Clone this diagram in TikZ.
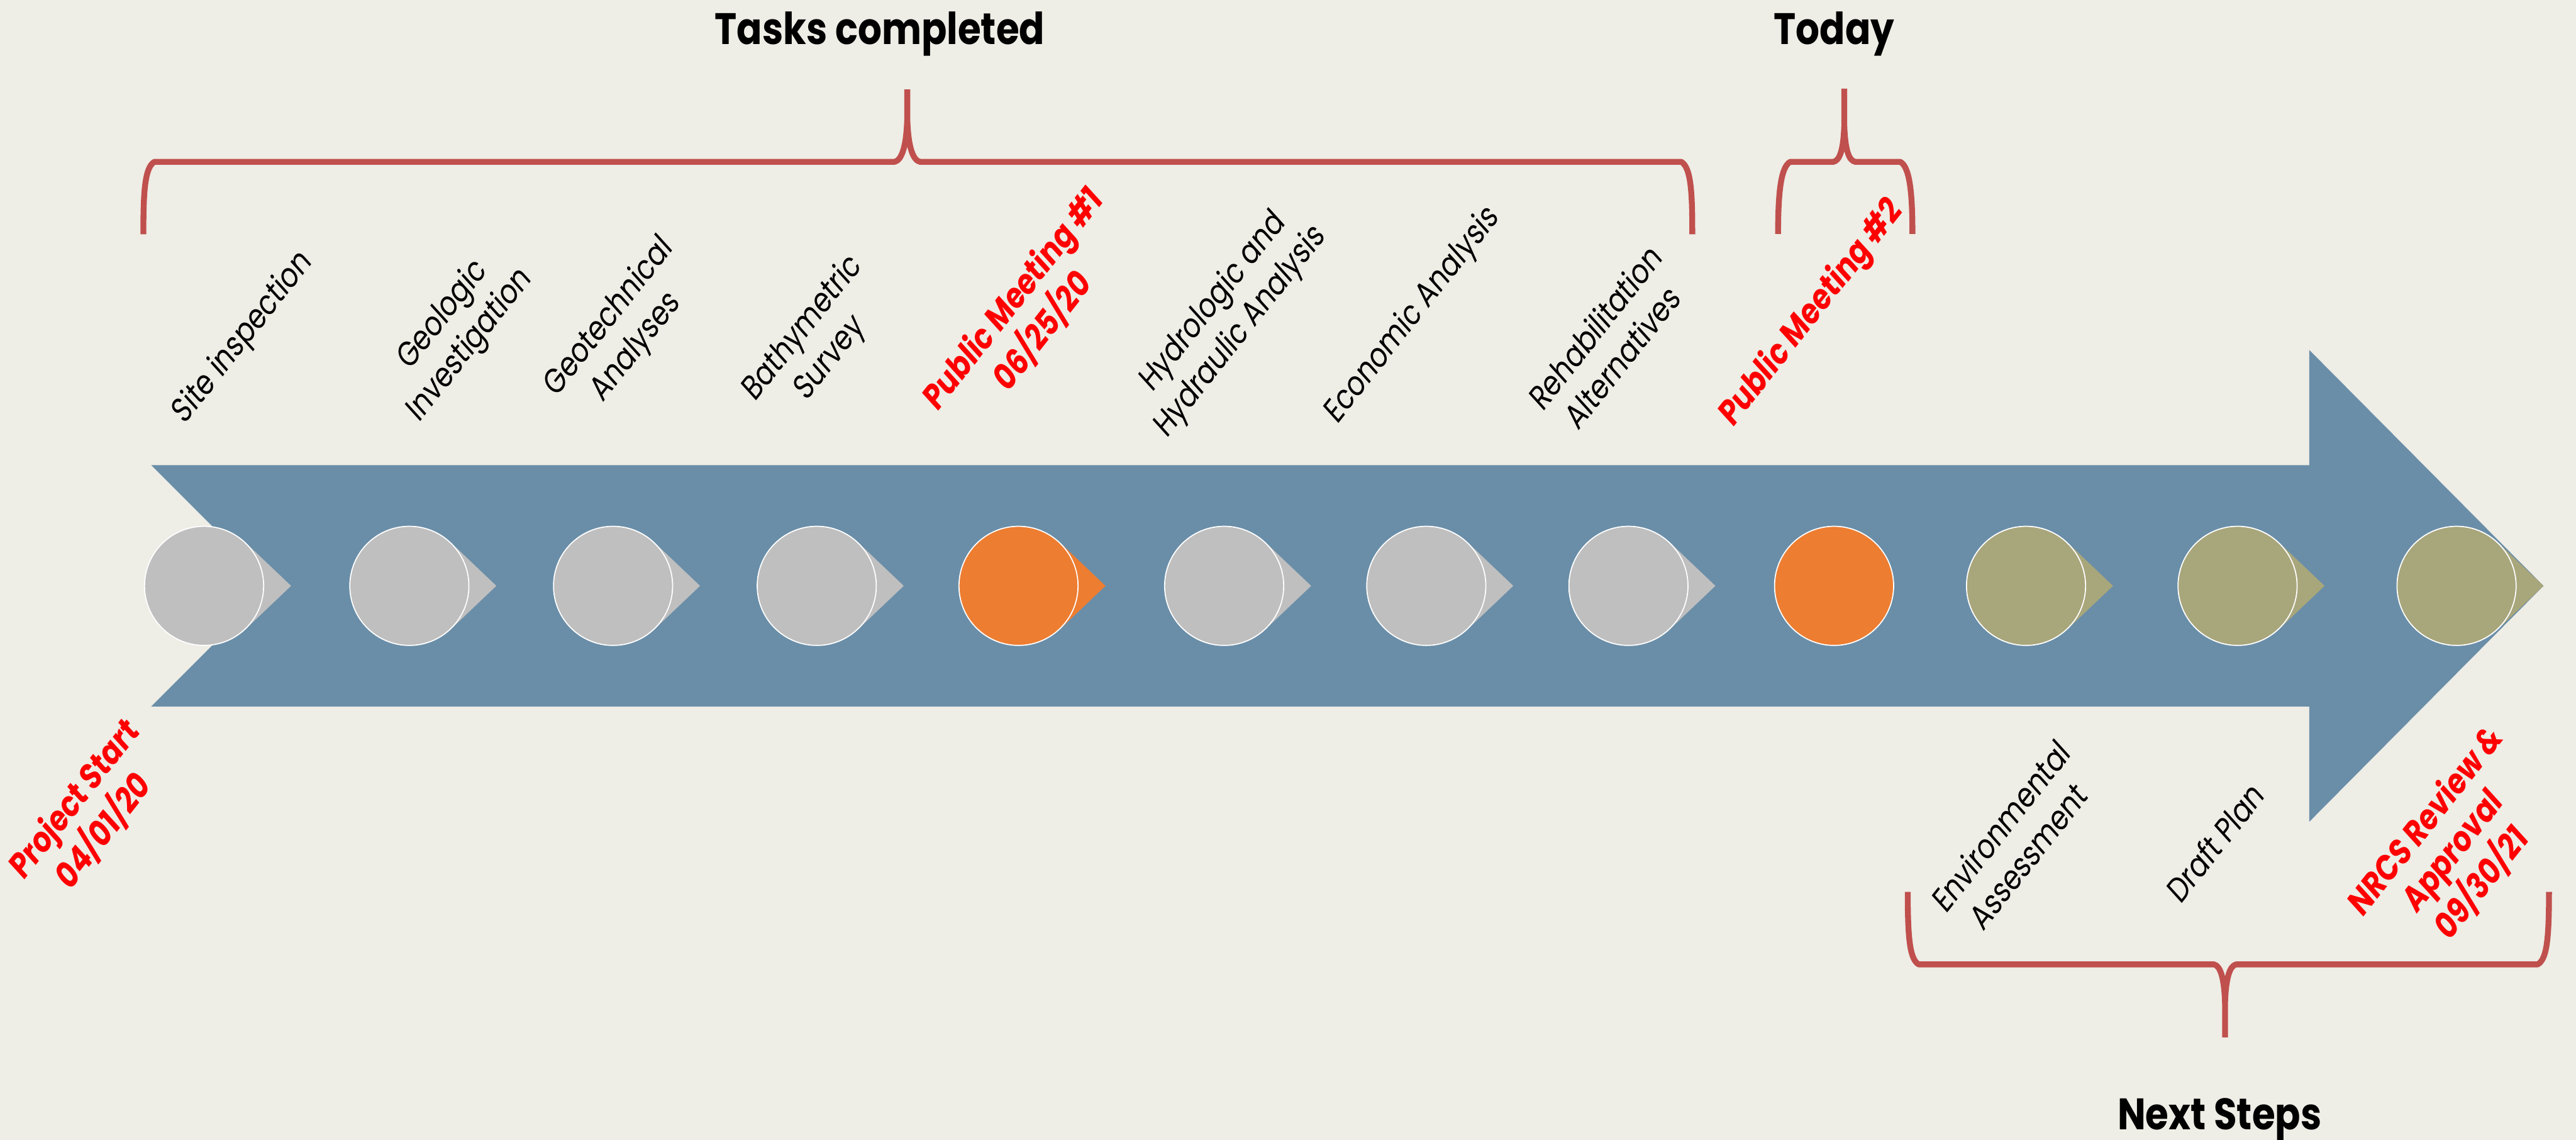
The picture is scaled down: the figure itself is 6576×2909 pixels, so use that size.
\documentclass[tikz,border=0pt]{standalone}
\usepackage{fontspec}
\setmainfont{Poppins}[FakeStretch=0.85]
\usetikzlibrary{calc}
\definecolor{bg}{HTML}{EEEDE6}
\definecolor{band}{HTML}{6A8EA8}
\definecolor{done}{HTML}{BFBFBF}
\definecolor{now}{HTML}{ED7D31}
\definecolor{next}{HTML}{A8A67B}
\definecolor{bracec}{HTML}{C0504D}
\definecolor{hot}{HTML}{FF0000}
% pointer wedge to the right of a milestone disc: #1 = x of centre, #2 = colour
\newcommand\wedgeat[2]{\fill[#2] ({#1+105.5},1384.2) -- ({#1+222},1495) -- ({#1+105.5},1605.8) -- (#1,1495) -- cycle;}
\begin{document}
\begin{tikzpicture}[x=0.1mm,y=-0.1mm,
  mstone/.style={circle, draw=white, line width=0.28mm, minimum size=30.4mm, inner sep=0pt},
  lbl/.style={font=\fontsize{22}{27}\selectfont, align=center, text=black, inner sep=0pt, yscale=1.18, rotate=47},
  hotlbl/.style={lbl, font=\fontsize{23}{27}\selectfont\bfseries, text=hot},
  title/.style={font=\fontsize{32}{38}\selectfont\bfseries, anchor=base, inner sep=0pt},
  brace/.style={draw=bracec, line width=1.5mm, line join=round}]
\fill[bg] (0,0) rectangle (6576,2909);
\useasboundingbox (0,0) rectangle (6576,2909);

% timeline band with notched tail and arrow head
\fill[band] (386,1187) -- (5895,1187) -- (5895,893) -- (6493,1495) -- (5895,2097)
  -- (5895,1803) -- (386,1803) -- (694,1495) -- cycle;

% milestones
\wedgeat{521}{done}   \node[mstone, fill=done] (m1) at (521,1495) {};
\wedgeat{1045}{done}  \node[mstone, fill=done] (m2) at (1045,1495) {};
\wedgeat{1565}{done}  \node[mstone, fill=done] (m3) at (1565,1495) {};
\wedgeat{2085}{done}  \node[mstone, fill=done] (m4) at (2085,1495) {};
\wedgeat{2600}{now}   \node[mstone, fill=now] (m5) at (2600,1495) {};
\wedgeat{3125}{done}  \node[mstone, fill=done] (m6) at (3125,1495) {};
\wedgeat{3641}{done}  \node[mstone, fill=done] (m7) at (3641,1495) {};
\wedgeat{4157}{done}  \node[mstone, fill=done] (m8) at (4157,1495) {};
\node[mstone, fill=now] (m9) at (4682,1495) {};
\wedgeat{5172}{next}  \node[mstone, fill=next] (m10) at (5172,1495) {};
\wedgeat{5712}{next}  \node[mstone, fill=next] (m11) at (5712,1495) {};
\wedgeat{6271}{next}  \node[mstone, fill=next] (m12) at (6271,1495) {};

% braces
\draw[brace] (366,598) .. controls (366,500) and (368,428) .. (394,413) -- (2283,413)
  .. controls (2300,410) and (2314,380) .. (2316,300) -- (2316,228)
  (2316,300) .. controls (2318,380) and (2332,410) .. (2349,413) -- (4292,413)
  .. controls (4318,428) and (4320,500) .. (4320,598);
\draw[brace] (4539,597) .. controls (4539,480) and (4548,425) .. (4570,413) -- (4680,413)
  .. controls (4697,410) and (4706,380) .. (4708,320) -- (4708,226)
  (4708,320) .. controls (4710,380) and (4719,410) .. (4736,413) -- (4851,413)
  .. controls (4873,425) and (4882,480) .. (4882,597);
\draw[brace] (4870,2276) .. controls (4870,2400) and (4876,2448) .. (4898,2461) -- (5652,2461)
  .. controls (5668,2465) and (5678,2495) .. (5680,2560) -- (5680,2647)
  (5680,2560) .. controls (5682,2495) and (5692,2465) .. (5708,2461) -- (6478,2461)
  .. controls (6501,2448) and (6507,2400) .. (6507,2276);

% headings
\node[title] (done) at (2246,113) {Tasks completed};
\node[title] (today) at (4682,113) {Today};
\node[title] (nextsteps) at (5666,2882) {Next Steps};

% task labels
\node[lbl] (l1) at (621,862) {Site inspection};
\node[lbl] (l2) at (1166,843) {Geologic\\Investigation};
\node[lbl] (l3) at (1590,848) {Geotechnical\\Analyses};
\node[lbl] (l4) at (2085,877) {Bathymetric\\Survey};
\node[hotlbl] (l5) at (2625,805) {Public Meeting \#1\\06/25/20};
\node[lbl] (l6) at (3133,809) {Hydrologic and\\Hydraulic Analysis};
\node[lbl] (l7) at (3607,805) {Economic Analysis};
\node[lbl] (l8) at (4106,872) {Rehabilitation\\Alternatives};
\node[hotlbl] (l9) at (4625,800) {Public Meeting \#2};
\node[lbl] (l10) at (5142,2145) {Environmental\\Assessment};
\node[lbl] (l11) at (5654,2148) {Draft Plan};
\node[hotlbl] (l12) at (6265,2175) {NRCS Review \&\\Approval\\09/30/21};
\node[hotlbl] (l13) at (228,2081) {Project Start\\04/01/20};
\end{tikzpicture}
\end{document}
